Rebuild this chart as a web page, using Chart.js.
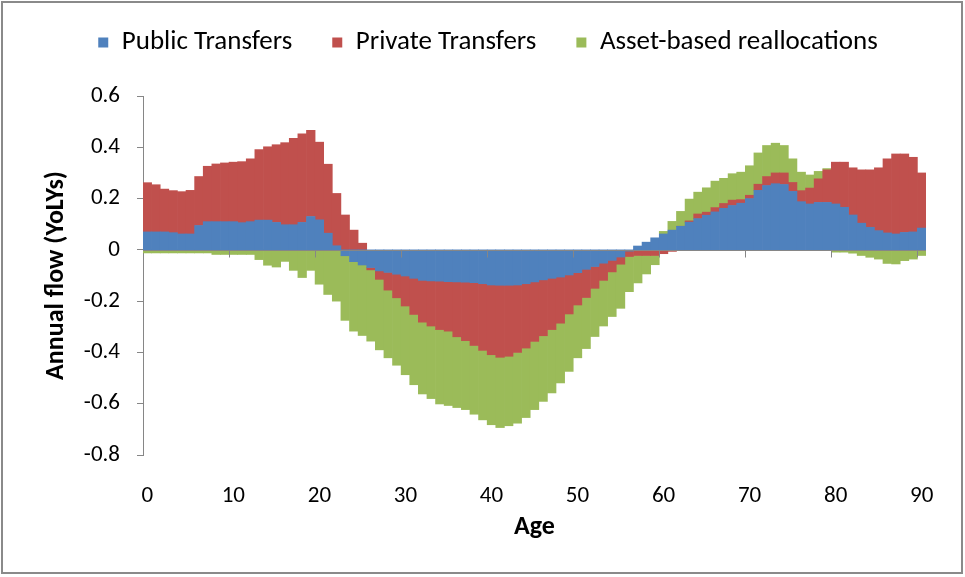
<!DOCTYPE html>
<html>
<head>
<meta charset="utf-8">
<title>Annual flow by age</title>
<script src="https://cdn.jsdelivr.net/npm/chart.js@4.4.1/dist/chart.umd.min.js"></script>
<style>
  html, body { margin: 0; padding: 0; background: #fff; }
  #wrap { position: relative; width: 965px; height: 577px; }
  #frame { position: absolute; left: 1px; top: 1px; width: 958px; height: 569px; border: 2px solid #8a8a8a; pointer-events: none; }
</style>
</head>
<body>
<div id="wrap">
  <canvas id="chart" width="965" height="577"></canvas>
  <div id="frame"></div>
</div>
<script>
// ages 0..90, one bar each
const ages = Array.from({ length: 91 }, (_, i) => String(i));
const xTickLabels = ['0', '10', '20', '30', '40', '50', '60', '70', '80', '90'];

const publicTransfers = [
  0.070, 0.070, 0.070, 0.067, 0.062, 0.062, 0.095, 0.110, 0.110, 0.110,
  0.110, 0.106, 0.110, 0.116, 0.116, 0.107, 0.098, 0.098, 0.107, 0.130,
  0.117, 0.065, 0.016, -0.023, -0.046, -0.059, -0.069, -0.082, -0.088, -0.095,
  -0.102, -0.111, -0.119, -0.121, -0.122, -0.124, -0.125, -0.126, -0.128, -0.132,
  -0.137, -0.138, -0.138, -0.137, -0.132, -0.125, -0.117, -0.111, -0.106, -0.098,
  -0.089, -0.076, -0.065, -0.052, -0.041, -0.028, -0.005, 0.015, 0.030, 0.047,
  0.062, 0.077, 0.092, 0.108, 0.122, 0.135, 0.148, 0.162, 0.173, 0.182,
  0.200, 0.232, 0.251, 0.258, 0.255, 0.228, 0.188, 0.179, 0.185, 0.185,
  0.179, 0.166, 0.136, 0.104, 0.088, 0.075, 0.066, 0.062, 0.068, 0.070,
  0.085
];

const privateTransfers = [
  0.192, 0.184, 0.167, 0.164, 0.165, 0.170, 0.191, 0.216, 0.225, 0.229,
  0.232, 0.238, 0.245, 0.275, 0.286, 0.303, 0.320, 0.337, 0.345, 0.336,
  0.303, 0.269, 0.204, 0.136, 0.077, 0.026, -0.009, -0.033, -0.069, -0.092,
  -0.117, -0.141, -0.163, -0.176, -0.189, -0.193, -0.214, -0.228, -0.245, -0.260,
  -0.272, -0.281, -0.277, -0.263, -0.251, -0.232, -0.218, -0.200, -0.180, -0.152,
  -0.126, -0.110, -0.085, -0.067, -0.045, -0.028, -0.021, -0.022, -0.022, -0.022,
  -0.015, -0.006, 0.000, 0.005, 0.018, 0.012, 0.017, 0.019, 0.021, 0.014,
  0.013, 0.024, 0.035, 0.042, 0.045, 0.035, 0.043, 0.062, 0.092, 0.127,
  0.163, 0.176, 0.184, 0.208, 0.224, 0.245, 0.289, 0.312, 0.306, 0.291,
  0.215
];

const assetReallocations = [
  -0.012, -0.012, -0.012, -0.012, -0.012, -0.012, -0.012, -0.012, -0.018, -0.018,
  -0.018, -0.018, -0.018, -0.038, -0.060, -0.067, -0.045, -0.080, -0.108, -0.080,
  -0.134, -0.174, -0.200, -0.252, -0.271, -0.275, -0.278, -0.275, -0.264, -0.263,
  -0.268, -0.274, -0.280, -0.283, -0.290, -0.290, -0.276, -0.269, -0.268, -0.271,
  -0.273, -0.274, -0.271, -0.276, -0.271, -0.266, -0.256, -0.247, -0.233, -0.224,
  -0.206, -0.199, -0.188, -0.178, -0.174, -0.172, -0.137, -0.107, -0.072, -0.036,
  0.010, 0.034, 0.058, 0.085, 0.085, 0.095, 0.103, 0.098, 0.103, 0.107,
  0.115, 0.122, 0.121, 0.116, 0.107, 0.092, 0.072, 0.051, 0.029, 0.005,
  -0.009, -0.009, -0.013, -0.022, -0.029, -0.036, -0.053, -0.055, -0.042, -0.036,
  -0.022
];

const axisGrey = '#868686';
const fontFamily = 'Carlito, Lato, "Open Sans", sans-serif';

// extra room under the legend, like the Excel layout
const legendGap = {
  id: 'legendGap',
  beforeInit(chart) {
    const fit = chart.legend.fit;
    chart.legend.fit = function () {
      fit.call(this);
      this.height += 30;
    };
  }
};

// Excel-style horizontal axis at zero, with a tick every 10 ages
const zeroAxis = {
  id: 'zeroAxis',
  afterDatasetsDraw(chart) {
    const { ctx, chartArea, scales: { x, y } } = chart;
    const y0 = Math.round(y.getPixelForValue(0)) + 0.5;
    const half = (x.getPixelForValue(1) - x.getPixelForValue(0)) / 2;
    ctx.save();
    ctx.strokeStyle = axisGrey;
    ctx.lineWidth = 1;
    ctx.beginPath();
    ctx.moveTo(chartArea.left, y0);
    ctx.lineTo(chartArea.right, y0);
    for (let i = 10; i < ages.length; i += 10) {
      const px = Math.round(x.getPixelForValue(i) - half) + 0.5;
      ctx.moveTo(px, y0);
      ctx.lineTo(px, y0 + 7);
    }
    ctx.stroke();
    ctx.restore();
  }
};

const ctx = document.getElementById('chart').getContext('2d');

new Chart(ctx, {
  type: 'bar',
  plugins: [legendGap, zeroAxis],
  data: {
    labels: ages,
    datasets: [
      { label: 'Public Transfers', data: publicTransfers, backgroundColor: '#4F81BD' },
      { label: 'Private Transfers', data: privateTransfers, backgroundColor: '#C0504D' },
      { label: 'Asset-based reallocations', data: assetReallocations, backgroundColor: '#9BBB59' }
    ]
  },
  options: {
    responsive: false,
    animation: false,
    barPercentage: 1,
    categoryPercentage: 1,
    borderWidth: 0,
    layout: {
      padding: { top: -11, left: 50, right: 39, bottom: 0 }
    },
    plugins: {
      legend: {
        position: 'top',
        labels: {
          boxWidth: 10,
          boxHeight: 10,
          padding: 40,
          color: '#000',
          font: { family: fontFamily, size: 27 }
        }
      },
      tooltip: { enabled: false }
    },
    scales: {
      x: {
        stacked: true,
        grid: { display: false },
        border: { display: false },
        ticks: {
          autoSkip: false,
          maxRotation: 0,
          padding: 19,
          color: '#000',
          font: { family: fontFamily, size: 23 },
          callback: (value, index) => (index % 10 === 0 ? xTickLabels[index / 10] : '')
        },
        title: {
          display: true,
          text: 'Age',
          color: '#000',
          font: { family: fontFamily, size: 26, weight: 'bold' },
          padding: { top: 0, bottom: 34 }
        },
        afterFit: (scale) => { scale.height = 122; }
      },
      y: {
        stacked: true,
        min: -0.8,
        max: 0.6,
        grid: { drawOnChartArea: false, color: axisGrey, tickLength: 6 },
        border: { color: axisGrey },
        ticks: {
          stepSize: 0.2,
          padding: 17,
          color: '#000',
          font: { family: fontFamily, size: 23 },
          callback: (value) => (Math.abs(value) < 1e-9 ? '0' : value.toFixed(1))
        },
        title: {
          display: true,
          text: 'Annual flow (YoLYs)',
          color: '#000',
          font: { family: fontFamily, size: 26, weight: 'bold' },
          padding: { top: -9, bottom: 0 }
        },
        afterFit: (scale) => { scale.width = 93; }
      }
    }
  }
});
</script>
</body>
</html>
